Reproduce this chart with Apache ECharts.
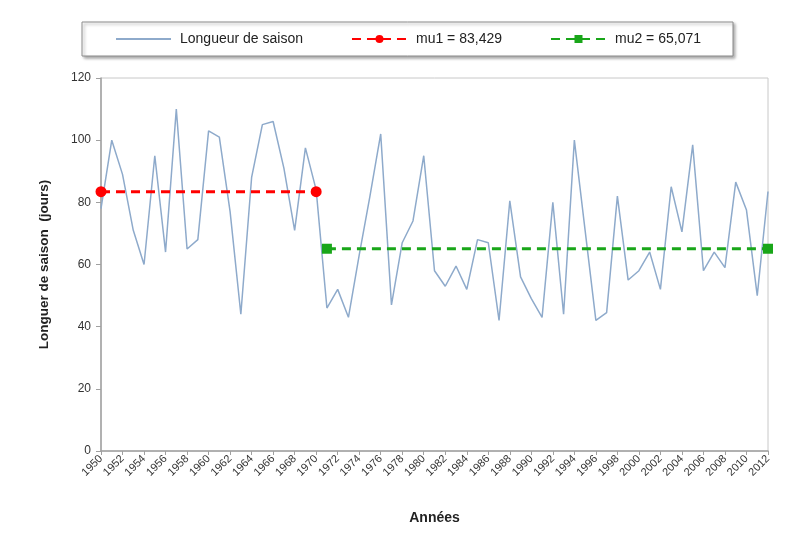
<!DOCTYPE html>
<html>
<head>
<meta charset="utf-8">
<script src="https://cdn.jsdelivr.net/npm/echarts@6/dist/echarts.min.js"></script>
<style>
  html, body { margin: 0; padding: 0; background: #fff; }
  #chart { width: 795px; height: 550px; }
</style>
</head>
<body>
<div id="chart"></div>
<script>
// années 1950 - 2012
const years = [];
for (let y = 1950; y <= 2012; y++) years.push(String(y));

// longueur de saison (jours)
const seasonLength = [
  78, 100, 89, 71, 60, 95, 64, 110, 65, 68,
  103, 101, 77, 44, 88, 105, 106, 91, 71, 97.5,
  84, 46, 52, 43, 63, 82, 102, 47, 67, 74,
  95, 58, 53, 59.5, 52, 68, 67, 42, 80.5, 56,
  49, 43, 80, 44, 100, 71, 42, 44.5, 82, 55,
  58, 64, 52, 85, 70.5, 98.5, 58, 64, 59, 86.5,
  77.5, 50, 83.5
];

// moyennes des deux périodes
const mu1 = 83.429;
const mu2 = 65.071;
const mu1Range = ['1950', '1970'];
const mu2Range = ['1971', '2012'];

const legendNames = ['Longueur de saison', 'mu1 = 83,429', 'mu2 = 65,071'];

function meanLine(mu, range) {
  const a = years.indexOf(range[0]);
  const b = years.indexOf(range[1]);
  return years.map((y, i) => {
    if (i < a || i > b) return null;
    if (i === a || i === b) return { value: mu };
    return { value: mu, symbol: 'none' };
  });
}

const font = 'Liberation Sans, Arial, sans-serif';
const chart = echarts.init(document.getElementById('chart'));

chart.setOption({
  animation: false,
  textStyle: { fontFamily: font },
  legend: {
    left: 82,
    top: 22,
    padding: [10, 32, 10, 33],
    itemGap: 48,
    itemWidth: 55,
    itemHeight: 10,
    backgroundColor: '#fff',
    borderColor: '#8c8c8c',
    borderWidth: 1,
    shadowColor: 'rgba(0,0,0,0.35)',
    shadowBlur: 3,
    shadowOffsetX: 2,
    shadowOffsetY: 2,
    textStyle: { fontSize: 14, color: '#222', fontFamily: font, padding: [0, 0, 0, 4] },
    data: [
      { name: legendNames[0], itemStyle: { opacity: 0 } },
      legendNames[1],
      legendNames[2]
    ]
  },
  grid: {
    left: 101,
    right: 27,
    top: 78,
    bottom: 99,
    show: true,
    borderColor: '#c8c8c8',
    borderWidth: 1
  },
  xAxis: {
    type: 'category',
    data: years,
    boundaryGap: false,
    name: 'Années',
    nameLocation: 'middle',
    nameGap: 60,
    nameTextStyle: { fontWeight: 'bold', fontSize: 14, color: '#222' },
    axisLine: { lineStyle: { color: '#a0a0a0', width: 1.5 } },
    axisTick: { interval: 1, length: 4, lineStyle: { color: '#a0a0a0' } },
    axisLabel: { interval: 1, rotate: 45, fontSize: 11, color: '#333', margin: 6 },
    splitLine: { show: false }
  },
  yAxis: {
    type: 'value',
    min: 0,
    max: 120,
    interval: 20,
    name: 'Longuer de saison  (jours)',
    nameLocation: 'middle',
    nameGap: 50,
    nameTextStyle: { fontWeight: 'bold', fontSize: 13.5, color: '#222' },
    axisLine: { show: true, lineStyle: { color: '#a0a0a0', width: 1.5 } },
    axisTick: { show: true, length: 5, lineStyle: { color: '#a0a0a0' } },
    axisLabel: { fontSize: 12, color: '#333', margin: 10 },
    splitLine: { show: false }
  },
  series: [
    {
      name: legendNames[0],
      type: 'line',
      data: seasonLength,
      symbol: 'none',
      lineStyle: { color: '#8eaacb', width: 1.5 },
      itemStyle: { color: '#8eaacb' },
      z: 2
    },
    {
      name: legendNames[1],
      type: 'line',
      data: meanLine(mu1, mu1Range),
      symbol: 'circle',
      symbolSize: 11,
      showAllSymbol: true,
      lineStyle: { color: '#ff0000', width: 3, type: [9, 6] },
      itemStyle: { color: '#ff0000' },
      z: 3
    },
    {
      name: legendNames[2],
      type: 'line',
      data: meanLine(mu2, mu2Range),
      symbol: 'rect',
      symbolSize: 10,
      showAllSymbol: true,
      lineStyle: { color: '#19a619', width: 3, type: [9, 6] },
      itemStyle: { color: '#19a619' },
      z: 3
    }
  ]
});
</script>
</body>
</html>
